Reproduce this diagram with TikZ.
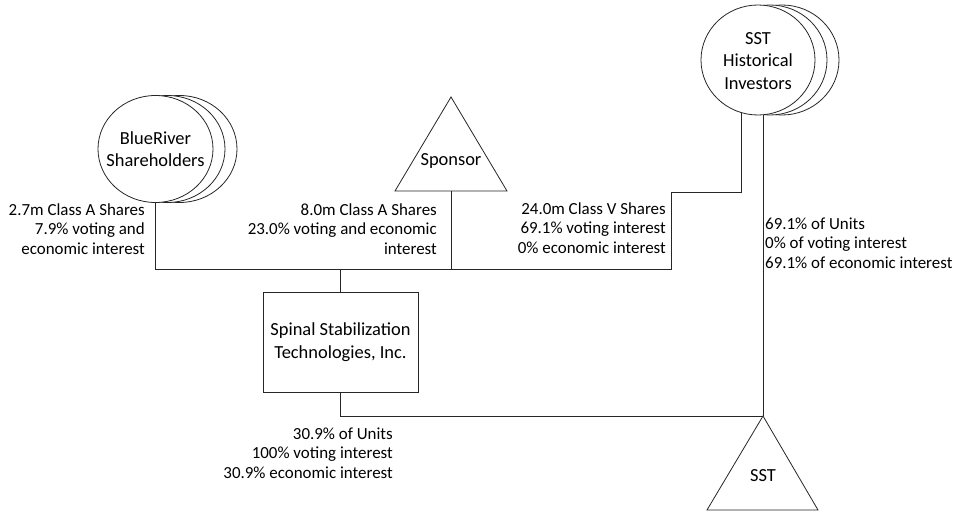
\documentclass[tikz,border=0pt]{standalone}
\usepackage{fontspec}
\setmainfont{Carlito}
\usetikzlibrary{shapes.geometric,backgrounds}
\begin{document}
\begin{tikzpicture}[x=1bp,y=-1bp,
  line/.style={draw=black!85, line width=0.8bp},
  ell/.style={ellipse, draw=black!85, line width=0.8bp, fill=white, minimum width=115bp, minimum height=107bp, inner sep=0pt},
  nodetext/.style={font=\fontsize{18.5}{22.5}\selectfont, align=center, inner sep=0pt},
  lbl/.style={font=\fontsize{17}{19.5}\selectfont, inner sep=0pt},
  boxst/.style={draw=black!85, line width=0.8bp, fill=white, minimum width=155bp, minimum height=100bp, inner sep=0pt}
]
\useasboundingbox (0,0) rectangle (955,513);

% BlueRiver Shareholders (stacked ellipses)
\node[ell] (br3) at (179.5,149) {};
\node[ell] (br2) at (167.5,149) {};
\node[ell] (br) at (155.5,149) {};
\node[nodetext] (brt) at (155.5,149) {BlueRiver\\Shareholders};

% SST Historical Investors (stacked ellipses)
\node[ell, minimum width=114bp, minimum height=110bp] (hi3) at (782,60) {};
\node[ell, minimum width=114bp, minimum height=110bp] (hi2) at (770,60) {};
\node[ell, minimum width=114bp, minimum height=110bp] (hi) at (758,60) {};
\node[nodetext] (hit) at (758,61) {SST\\Historical\\Investors};

% Sponsor triangle
\coordinate (spA) at (451,97);
\coordinate (spL) at (395,191);
\coordinate (spR) at (507,191);
\coordinate (spB) at (451,191);
\draw[line, fill=white] (spA) -- (spR) -- (spL) -- cycle;
\node[nodetext] (sp) at (451,161) {Sponsor};

% SST triangle
\coordinate (sstA) at (763,416);
\coordinate (sstL) at (707,510);
\coordinate (sstR) at (818,510);
\draw[line, fill=white] (sstA) -- (sstR) -- (sstL) -- cycle;
\node[nodetext] (sst) at (763,476) {SST};

% Spinal Stabilization box
\node[boxst] (box) at (340.5,342) {};
\node[nodetext] (boxt) at (340.5,342) {Spinal Stabilization\\Technologies, Inc.};

% junction coordinates
\coordinate (j1) at (155.5,269);
\coordinate (j2) at (340.5,269);
\coordinate (j3) at (451,269);
\coordinate (j4) at (671,269);
\coordinate (j5) at (671,192);
\coordinate (j6) at (741,192);
\coordinate (j7) at (340.5,416);
\coordinate (hiA) at (741,60);
\coordinate (hiB) at (763,60);

\begin{pgfonlayer}{background}
\fill[white] (0,0) rectangle (955,513);
\draw[line] (br.center) -- (j1) -- (j4) -- (j5) -- (j6) -- (hiA);
\draw[line] (spB) -- (j3);
\draw[line] (j2) -- (box.north);
\draw[line] (box.south) -- (j7) -- (sstA);
\draw[line] (hiB) -- (sstA);
\end{pgfonlayer}

% labels
\node[lbl, align=right, anchor=east] (l1) at (145,229) {2.7m Class A Shares\\7.9\% voting and\\economic interest};
\node[lbl, align=right, anchor=east] (l2) at (437,229) {8.0m Class A Shares\\23.0\% voting and economic\\interest};
\node[lbl, align=right, anchor=east] (l3) at (666,228) {24.0m Class V Shares\\69.1\% voting interest\\0\% economic interest};
\node[lbl, align=left, anchor=west] (l4) at (765,243) {69.1\% of Units\\0\% of voting interest\\69.1\% of economic interest};
\node[lbl, align=right, anchor=east] (l5) at (393,453) {30.9\% of Units\\100\% voting interest\\30.9\% economic interest};
\end{tikzpicture}
\end{document}
